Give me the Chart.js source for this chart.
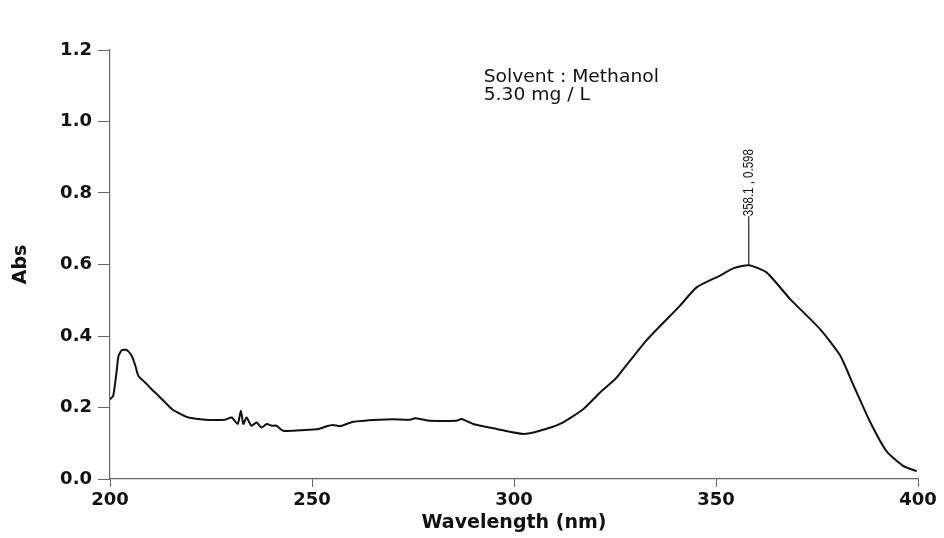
<!DOCTYPE html>
<html>
<head>
<meta charset="utf-8">
<script src="https://cdn.jsdelivr.net/npm/chart.js@4.4.0/dist/chart.umd.min.js"></script>
<style>
  html, body { margin: 0; padding: 0; background: #fff; }
  #wrap { width: 944px; height: 538px; }
</style>
</head>
<body>
<div id="wrap"><canvas id="spectrum" width="944" height="538"></canvas></div>
<script>
// UV spectrum (wavelength in nm, absorbance)
const wavelength = [
  200, 200.8, 201.7, 202.1, 202.9, 204.1, 205.4, 206.3, 207, 208.7,
  210.3, 212, 215.3, 217.4, 219.4, 223.5, 228.5, 230.1, 231.6, 232.4,
  233, 233.8, 235, 236.3, 237.5, 238.8, 240, 241.2, 242.9, 248.3,
  251.6, 253.5, 255.2, 257, 260.2, 266.8, 270, 274.3, 275.5, 279.2,
  285.8, 287, 289.9, 295.7, 302.3, 306.4, 311.4, 317.2, 321.3, 325,
  326.2, 332.8, 341.1, 345.2, 351, 354.3, 358.1, 362.5, 368.3, 375.7,
  380.7, 384, 388.1, 392.2, 396.4, 399.7
];
const absorbance = [
  0.223, 0.233, 0.307, 0.344, 0.360, 0.361, 0.344, 0.316, 0.289, 0.270,
  0.251, 0.233, 0.196, 0.182, 0.172, 0.166, 0.166, 0.172, 0.154, 0.191,
  0.154, 0.172, 0.149, 0.158, 0.144, 0.154, 0.149, 0.149, 0.135, 0.137,
  0.140, 0.147, 0.151, 0.148, 0.160, 0.166, 0.167, 0.166, 0.170, 0.163,
  0.163, 0.168, 0.154, 0.140, 0.126, 0.135, 0.154, 0.196, 0.242, 0.279,
  0.295, 0.388, 0.485, 0.536, 0.569, 0.589, 0.598, 0.578, 0.504, 0.420,
  0.346, 0.263, 0.161, 0.078, 0.036, 0.022
];

const xTicks = [200, 250, 300, 350, 400];
const yTicks = [0, 0.2, 0.4, 0.6, 0.8, 1.0, 1.2];

// peak marker and sample note
const peak = { x: 358.1, y: 0.598, label: '358.1 , 0.598', stemTop: 0.735 };
const noteLines = ['Solvent : Methanol', '5.30 mg / L'];
const noteX = 292.5;
const noteY = [1.11, 1.06];

const points = wavelength.map((w, i) => ({ x: w, y: absorbance[i] }));

const annotate = {
  id: 'annotate',
  afterDatasetsDraw(chart) {
    const { ctx, scales: { x, y } } = chart;
    ctx.save();
    // peak stem
    const px = x.getPixelForValue(peak.x);
    const py = y.getPixelForValue(peak.y);
    const top = y.getPixelForValue(peak.stemTop);
    ctx.strokeStyle = '#222';
    ctx.lineWidth = 1.2;
    ctx.beginPath();
    ctx.moveTo(px, py);
    ctx.lineTo(px, top);
    ctx.stroke();
    // rotated peak label, squeezed like the plotter font
    ctx.translate(px, top);
    ctx.rotate(-Math.PI / 2);
    ctx.scale(0.82, 1);
    ctx.fillStyle = '#111';
    ctx.font = '14px "Liberation Sans", Arial, sans-serif';
    ctx.textAlign = 'left';
    ctx.textBaseline = 'middle';
    ctx.fillText(peak.label, 0, 0);
    ctx.restore();

    // solvent note (scan text is a bit wide)
    ctx.save();
    ctx.fillStyle = '#111';
    ctx.font = '17px "DejaVu Sans", sans-serif';
    ctx.textAlign = 'left';
    ctx.textBaseline = 'alphabetic';
    noteLines.forEach((t, i) => {
      ctx.save();
      ctx.translate(x.getPixelForValue(noteX), y.getPixelForValue(noteY[i]));
      ctx.scale(1.1, 1);
      ctx.fillText(t, 0, 0);
      ctx.restore();
    });
    ctx.restore();
  }
};

const tickFont = { family: '"DejaVu Sans", sans-serif', size: 18, weight: 'bold' };
const titleFont = { family: '"DejaVu Sans", sans-serif', size: 19, weight: 'bold' };

new Chart(document.getElementById('spectrum'), {
  type: 'line',
  data: {
    datasets: [{
      data: points,
      borderColor: '#111',
      borderWidth: 2,
      pointRadius: 0,
      tension: 0.2,
      fill: false
    }]
  },
  options: {
    responsive: false,
    animation: false,
    devicePixelRatio: 1,
    layout: { padding: { top: 50, right: 26, left: 0, bottom: 0 } },
    plugins: { legend: { display: false }, tooltip: { enabled: false } },
    scales: {
      x: {
        type: 'linear',
        min: 200,
        max: 400,
        afterBuildTicks: s => { s.ticks = xTicks.map(v => ({ value: v })); },
        afterFit: s => { s.height = 59; },
        ticks: { font: tickFont, color: '#111', padding: 3 },
        grid: { drawOnChartArea: false, drawTicks: true, tickLength: 8, color: '#666' },
        border: { display: true, color: '#666', width: 1.2 },
        title: { display: true, text: 'Wavelength (nm)', font: titleFont, color: '#111', padding: { top: 0, bottom: 4 } }
      },
      y: {
        min: 0,
        max: 1.2,
        afterBuildTicks: s => { s.ticks = yTicks.map(v => ({ value: v })); },
        afterFit: s => { s.width = 110; },
        ticks: { font: tickFont, color: '#111', padding: 6, callback: v => v.toFixed(1) },
        grid: { drawOnChartArea: false, drawTicks: true, tickLength: 12, color: '#666' },
        border: { display: true, color: '#666', width: 1.2 },
        title: { display: true, text: 'Abs', font: titleFont, color: '#111', padding: { top: 10, bottom: 0 } }
      }
    }
  },
  plugins: [annotate]
});
</script>
</body>
</html>
